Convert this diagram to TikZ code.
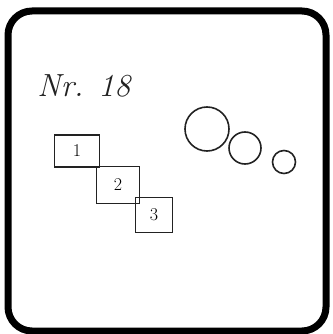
\documentclass[tikz,border=0pt]{standalone}
\usetikzlibrary{positioning}
\definecolor{ink}{HTML}{222222}

\begin{document}
\begin{tikzpicture}[x=1pt, y=-1pt,
  frame/.style={line width=7pt, rounded corners=24pt},
  card/.style={rectangle, draw=ink, line width=1.6pt, inner sep=0pt, font=\fontsize{18}{18}\selectfont},
  ball/.style={circle, draw=ink, line width=1.6pt, inner sep=0pt, minimum size=#1}
]
  \useasboundingbox (0,0) rectangle (332,334);
  \draw[frame] (8,11) rectangle (326,331);
  % title
  \node[font=\fontsize{32}{32}\selectfont\itshape, text=ink, inner sep=0pt] (title) at (84,86) {Nr. 18};
  % numbered boxes
  \node[card, minimum width=45pt, minimum height=32pt] (box1) at (77,151) {1};
  \node[card, minimum width=43pt, minimum height=37pt] (box2) at (118,185) {2};
  \node[card, minimum width=37pt, minimum height=35pt] (box3) at (154,215) {3};
  % circles
  \node[ball=44pt] (c1) at (207,129) {};
  \node[ball=32pt] (c2) at (245,148) {};
  \node[ball=23pt] (c3) at (284,162) {};
\end{tikzpicture}
\end{document}
